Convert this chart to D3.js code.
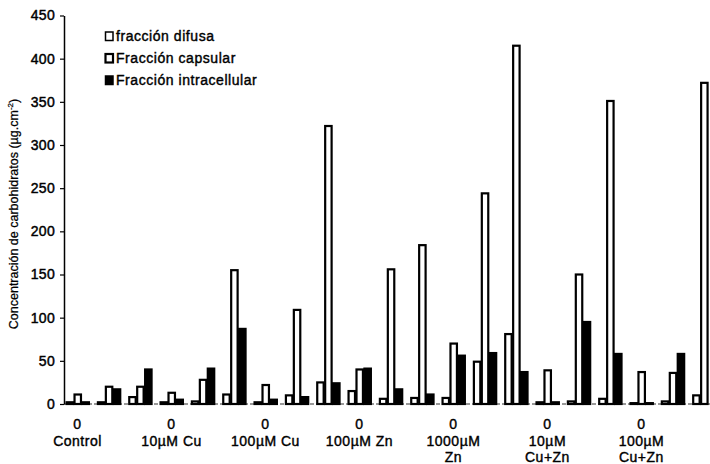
<!DOCTYPE html>
<html>
<head>
<meta charset="utf-8">
<script src="https://cdn.jsdelivr.net/npm/d3@7"></script>
<style>
  html, body { margin: 0; padding: 0; background: #fff; }
  svg { display: block; }
  text { font-family: "Liberation Sans", Arial, Helvetica, sans-serif; fill: #000; }
</style>
</head>
<body>
<svg id="chart" width="710" height="464"></svg>
<script>
// ---- data ----
const categories = d3.range(21).map(i => "c" + i);
// x-axis labels (only every third category is labelled)
const xLabels = [
  "0\nControl", "", "",
  "0\n10µM Cu", "", "",
  "0\n100µM Cu", "", "",
  "0\n100µM Zn", "", "",
  "0\n1000µM\nZn", "", "",
  "0\n10µM\nCu+Zn", "", "",
  "0\n100µM\nCu+Zn", "", ""
];
const seriesNames = ["fracción difusa", "Fracción capsular", "Fracción intracellular"];
const difusa        = [2, 2, 8, 2, 3, 11, 2, 10, 25, 15, 6, 7, 7, 49, 81, 2, 3, 6, 1, 3, 10];
const capsular      = [11, 20, 20, 13, 28, 155, 22, 109, 322, 40, 156, 184, 70, 244, 415, 39, 150, 351, 37, 36, 372];
const intracellular = [2, 17, 40, 5, 41, 87, 5, 8, 24, 41, 17, 11, 56, 59, 37, 2, 95, 58, 1, 58, null];
const yTicks = [0, 50, 100, 150, 200, 250, 300, 350, 400, 450];

const series = [difusa, capsular, intracellular];
const fills = ["#fff", "#fff", "#000"];

// ---- layout ----
const svg = d3.select("#chart");
const y0 = 404, y1 = 15.5, axisX = 64;
const step = 31.33;
const xStart = 77.5 - step / 2;

const x = d3.scaleBand()
  .domain(categories)
  .range([xStart, xStart + step * categories.length])
  .paddingInner(0.24)
  .paddingOuter(0.12);

const xs = d3.scaleBand()
  .domain(d3.range(series.length))
  .range([0, x.bandwidth()])
  .padding(0);

const y = d3.scaleLinear().domain([0, 450]).range([y0, y1]);

// baseline (dotted x axis)
svg.append("line")
  .attr("x1", axisX).attr("x2", 710)
  .attr("y1", y(0)).attr("y2", y(0))
  .attr("stroke", "#333").attr("stroke-width", 1.2)
  .attr("stroke-dasharray", "4,2");

// bars
const groups = svg.append("g").selectAll("g")
  .data(categories)
  .join("g")
  .attr("transform", d => `translate(${x(d)},0)`);

groups.selectAll("rect")
  .data((d, i) => series.map((s, j) => ({ j, v: s[i] })).filter(o => o.v != null))
  .join("rect")
  .attr("x", o => xs(o.j) + 1)
  .attr("width", xs.bandwidth() - 1.5)
  .attr("y", o => y(o.v))
  .attr("height", o => Math.max(0, y(0) - y(o.v)))
  .attr("fill", o => fills[o.j])
  .attr("stroke", "#000")
  .attr("stroke-width", 2.2);

// y axis
const yAxis = d3.axisLeft(y).tickValues(yTicks).tickSize(4).tickSizeOuter(0).tickPadding(5);
const gy = svg.append("g").attr("transform", `translate(${axisX},0)`).call(yAxis);
gy.select(".domain").attr("stroke", "#000").attr("stroke-width", 1.5);
gy.selectAll(".tick line").attr("stroke", "#000").attr("stroke-width", 1.2);
gy.selectAll(".tick text")
  .attr("font-size", 14)
  .attr("letter-spacing", 0.3)
  .attr("stroke", "#000").attr("stroke-width", 0.45)
  .style("font-family", "'Liberation Sans', Arial, sans-serif");

// y axis title
const title = svg.append("text")
  .attr("transform", `translate(18,${214}) rotate(-90)`)
  .attr("text-anchor", "middle")
  .attr("font-size", 12.5)
  .attr("stroke", "#000").attr("stroke-width", 0.25);
title.append("tspan").text("Concentración de carbohidratos (µg.cm");
title.append("tspan").attr("font-size", 8).attr("dy", -5).text("-2");
title.append("tspan").attr("dy", 5).text(")");

// x labels
const xl = svg.append("g");
categories.forEach((c, i) => {
  if (!xLabels[i]) return;
  const lines = xLabels[i].split("\n");
  const t = xl.append("text")
    .attr("text-anchor", "middle")
    .attr("font-size", 14)
    .attr("letter-spacing", 0.5)
    .attr("stroke", "#000").attr("stroke-width", 0.4);
  lines.forEach((ln, k) => {
    t.append("tspan")
      .attr("x", x(c) + x.bandwidth() / 2)
      .attr("y", 429 + k * 16.5)
      .text(ln);
  });
});

// legend
const legend = svg.append("g");
seriesNames.forEach((name, i) => {
  const cy = 36 + i * 22;
  legend.append("rect")
    .attr("x", 105.5).attr("y", cy - 4)
    .attr("width", 7.5).attr("height", 8.5)
    .attr("fill", fills[i])
    .attr("stroke", "#000")
    .attr("stroke-width", i === 1 ? 2.2 : 1.5);
  legend.append("text")
    .attr("x", 116).attr("y", cy + 5)
    .attr("font-size", 14)
    .attr("letter-spacing", 0.55)
    .attr("stroke", "#000").attr("stroke-width", 0.4)
    .text(name);
});
</script>
</body>
</html>
